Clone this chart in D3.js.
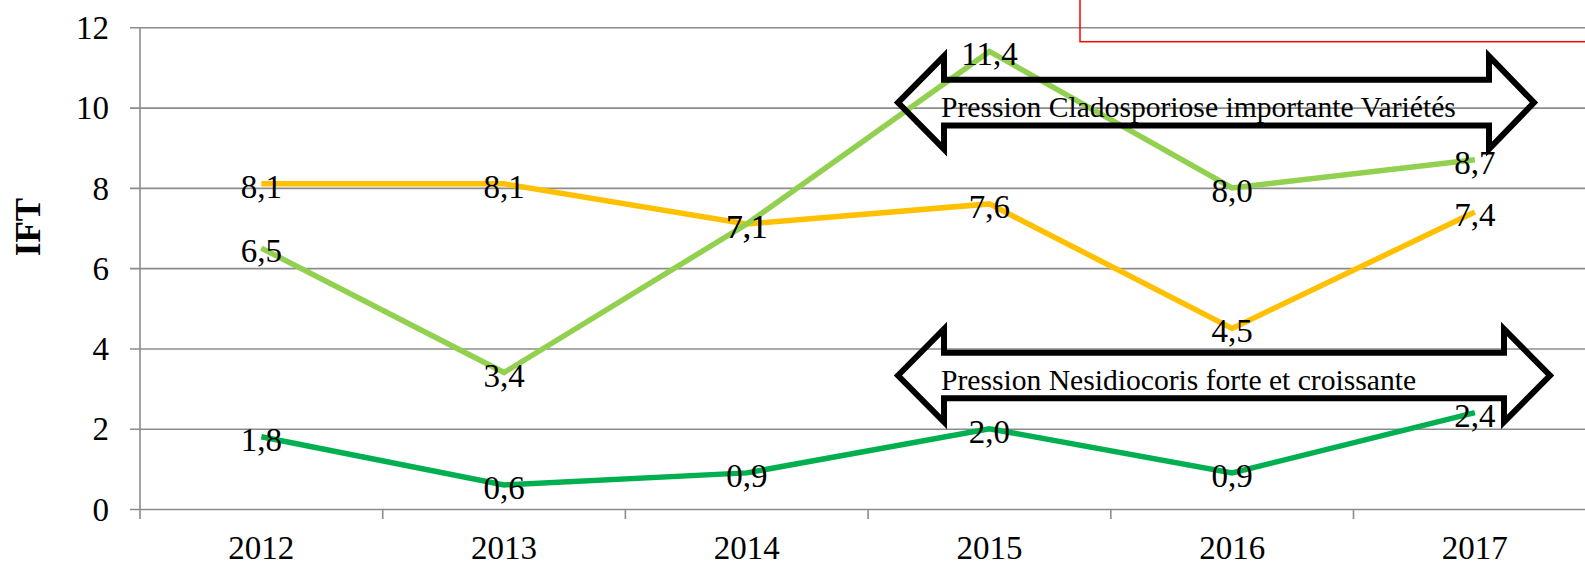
<!DOCTYPE html>
<html>
<head>
<meta charset="utf-8">
<script src="https://cdn.jsdelivr.net/npm/d3@7"></script>
<style>
  html, body { margin: 0; padding: 0; background: #fff; overflow: hidden; }
  svg { display: block; font-family: "Liberation Serif", "Times New Roman", serif; }
</style>
</head>
<body>
<svg id="chart" width="1585" height="563"></svg>
<script>
// Chart data
const years = ['2012', '2013', '2014', '2015', '2016', '2017'];
const yTicks = [0, 2, 4, 6, 8, 10, 12];
const yellowValues = [8.1, 8.1, 7.1, 7.6, 4.5, 7.4];
const lightGreenValues = [6.5, 3.4, 7.1, 11.4, 8.0, 8.7];
const greenValues = [1.8, 0.6, 0.9, 2.0, 0.9, 2.4];
const arrowLabels = ['Pression Cladosporiose importante Variétés', 'Pression Nesidiocoris forte et croissante'];

document.addEventListener('DOMContentLoaded', function() {
  drawChart();
});

function drawChart() {
  const svg = d3.select('#chart');

  const x = d3.scaleBand().domain(years).range([140, 140 + 6 * 242.7]);
  const y = d3.scaleLinear().domain([0, 12]).range([509, 27.3]);
  const cx = d => x(d) + x.bandwidth() / 2;

  // Gridlines + y axis
  const yAxis = d3.axisLeft(y).tickValues(yTicks).tickSize(-(1585 - 140)).tickSizeOuter(0).tickPadding(31);
  const gy = svg.append('g').attr('transform', 'translate(140,0)').call(yAxis);
  gy.select('.domain').remove();
  gy.selectAll('.tick line').attr('stroke', '#8c8c8c').attr('stroke-width', 1.6).attr('x1', -10);
  gy.selectAll('.tick text')
    .attr('font-size', 33).attr('fill', '#000')
    .attr('font-family', '"Liberation Serif", serif')
    .attr('dy', '0.34em');

  // x axis with category boundary ticks
  svg.append('line')
    .attr('x1', 140).attr('x2', 140).attr('y1', y(12)).attr('y2', y(0) + 10)
    .attr('stroke', '#8c8c8c').attr('stroke-width', 1.6);
  const bounds = years.map(d => x(d) + x.bandwidth());
  svg.append('g').selectAll('line').data(bounds).enter().append('line')
    .attr('x1', d => d).attr('x2', d => d)
    .attr('y1', y(0)).attr('y2', y(0) + 10)
    .attr('stroke', '#8c8c8c').attr('stroke-width', 1.6);
  svg.append('g').selectAll('text').data(years).enter().append('text')
    .attr('x', d => cx(d)).attr('y', 559)
    .attr('text-anchor', 'middle').attr('font-size', 33)
    .text(d => d);

  // Axis title
  svg.append('text')
    .attr('transform', 'translate(40,227) rotate(-90)')
    .attr('text-anchor', 'middle')
    .attr('font-size', 35).attr('font-weight', 'bold')
    .text('IFT');

  // Series lines
  const series = [
    { values: yellowValues, color: '#FFC000' },
    { values: lightGreenValues, color: '#92D050' },
    { values: greenValues, color: '#00B050' }
  ];
  const line = d3.line().x((v, i) => cx(years[i])).y(v => y(v));
  series.forEach(s => {
    svg.append('path')
      .attr('d', line(s.values))
      .attr('fill', 'none')
      .attr('stroke', s.color)
      .attr('stroke-width', 5.5)
      .attr('stroke-linejoin', 'miter');
  });

  // Data labels (centered on the points)
  series.forEach(s => {
    svg.append('g').selectAll('text').data(s.values).enter().append('text')
      .attr('x', (v, i) => cx(years[i]))
      .attr('y', v => y(v) + 14)
      .attr('text-anchor', 'middle')
      .attr('font-size', 33)
      .text(v => v.toFixed(1).replace('.', ','));
  });

  // Double-headed block arrows
  const arrows = [
    { text: arrowLabels[0], tipL: 898, backL: 944, backR: 1489, tipR: 1534, cy: 102.6 },
    { text: arrowLabels[1], tipL: 898, backL: 944, backR: 1504, tipR: 1550, cy: 375.5 }
  ];
  arrows.forEach(a => {
    const sh = 22.8, hh = 46.5;
    const pts = [
      [a.tipL, a.cy], [a.backL, a.cy - hh], [a.backL, a.cy - sh],
      [a.backR, a.cy - sh], [a.backR, a.cy - hh], [a.tipR, a.cy],
      [a.backR, a.cy + hh], [a.backR, a.cy + sh], [a.backL, a.cy + sh],
      [a.backL, a.cy + hh]
    ];
    svg.append('path')
      .attr('d', 'M' + pts.join('L') + 'Z')
      .attr('fill', 'none')
      .attr('stroke', '#000')
      .attr('stroke-width', 6)
      .attr('stroke-linejoin', 'miter');
    svg.append('text')
      .attr('x', 941).attr('y', a.cy + 14)
      .attr('font-size', 29.6)
      .text(a.text);
  });

  // Red frame partly outside the picture
  svg.append('rect')
    .attr('x', 1080).attr('y', -20).attr('width', 600).attr('height', 61.7)
    .attr('fill', 'none').attr('stroke', '#FF0000').attr('stroke-width', 1.5);
}
</script>
</body>
</html>
